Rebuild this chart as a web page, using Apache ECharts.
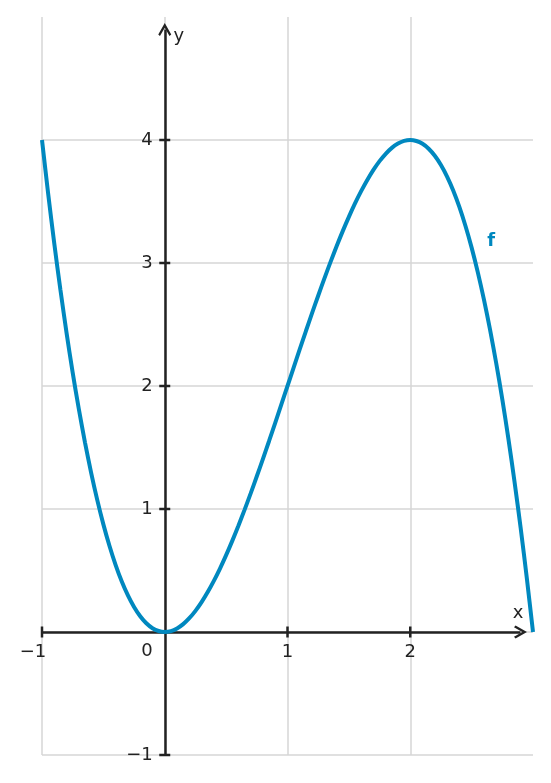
<!DOCTYPE html>
<html>
<head>
<meta charset="utf-8">
<script src="https://cdn.jsdelivr.net/npm/echarts@6/dist/echarts.min.js"></script>
<style>html,body{margin:0;padding:0;background:#fff;}#c{width:551px;height:783px;}</style>
</head>
<body>
<div id="c"></div>
<script>
// Curve samples
const xs = [-1.00,-0.95,-0.90,-0.85,-0.80,-0.75,-0.70,-0.65,-0.60,-0.55,-0.50,-0.45,-0.40,-0.35,-0.30,-0.25,-0.20,-0.15,-0.10,-0.05,
  0.00,0.05,0.10,0.15,0.20,0.25,0.30,0.35,0.40,0.45,0.50,0.55,0.60,0.65,0.70,0.75,0.80,0.85,0.90,0.95,
  1.00,1.05,1.10,1.15,1.20,1.25,1.30,1.35,1.40,1.45,1.50,1.55,1.60,1.65,1.70,1.75,1.80,1.85,1.90,1.95,
  2.00,2.05,2.10,2.15,2.20,2.25,2.30,2.35,2.40,2.45,2.50,2.55,2.60,2.65,2.70,2.75,2.80,2.85,2.90,2.95,3.00];
const ys = [4.000,3.565,3.159,2.782,2.432,2.109,1.813,1.542,1.296,1.074,0.875,0.699,0.544,0.410,0.297,0.203,0.128,0.071,0.031,0.008,
  0.000,0.007,0.029,0.064,0.112,0.172,0.243,0.325,0.416,0.516,0.625,0.741,0.864,0.993,1.127,1.266,1.408,1.553,1.701,1.850,
  2.000,2.150,2.299,2.447,2.592,2.734,2.873,3.007,3.136,3.259,3.375,3.484,3.584,3.675,3.757,3.828,3.888,3.936,3.971,3.993,
  4.000,3.992,3.969,3.929,3.872,3.797,3.703,3.590,3.456,3.301,3.125,2.926,2.704,2.458,2.187,1.891,1.568,1.218,0.841,0.435,0.000];
const xTicks = [-1, 1, 2];
const yTicks = [-1, 1, 2, 3, 4];
const xGrid = [-1, 0, 1, 2];
const yGrid = [-1, 0, 1, 2, 3, 4];
const xRange = [-1, 3];
const yRange = [-1, 5];
const xAxisEnd = 2.898;
const yAxisEnd = 4.898;
const seriesName = 'f';
const labelPoint = [2.66, 3.18];

const FONT = 'DejaVu Sans';
const INK = '#222222';
const BLUE = '#0088bf';
const GRID = '#d6d6d6';
const fmt = v => String(v).replace('-', '\u2212');

const chevron = 'path://M6,0 L12,10.2 L10.4,11.6 L6,4.2 L1.6,11.6 L0,10.2 Z';

const gridLines = [];
yGrid.forEach(y => gridLines.push([{coord: [xRange[0], y]}, {coord: [xRange[1], y]}]));
xGrid.forEach(x => gridLines.push([{coord: [x, yRange[0]]}, {coord: [x, yRange[1]]}]));

const txt = {fontFamily: FONT, fontSize: 18, color: INK, opacity: 1};

function tickRenderer(vertical) {
  return function (params, api) {
    const p = api.coord([api.value(0), api.value(1)]);
    const h = 5.5;
    const shape = vertical
      ? {x1: p[0], y1: p[1] - h, x2: p[0], y2: p[1] + h}
      : {x1: p[0] - h, y1: p[1], x2: p[0] + h, y2: p[1]};
    return {type: 'line', shape: shape, style: {stroke: INK, lineWidth: 2.5}};
  };
}

const chart = echarts.init(document.getElementById('c'), null, {renderer: 'canvas'});
chart.setOption({
  animation: false,
  backgroundColor: '#ffffff',
  grid: {left: 42, right: 18, top: 17, bottom: 28, containLabel: false},
  xAxis: {type: 'value', min: xRange[0], max: xRange[1], interval: 1,
    axisLine: {show: false}, axisTick: {show: false}, axisLabel: {show: false}, splitLine: {show: false}},
  yAxis: {type: 'value', min: yRange[0], max: yRange[1], interval: 1,
    axisLine: {show: false}, axisTick: {show: false}, axisLabel: {show: false}, splitLine: {show: false}},
  series: [
    { // grid lines
      type: 'line', data: [], silent: true, z: 1,
      markLine: {z: 1, silent: true, symbol: ['none', 'none'], label: {show: false},
        lineStyle: {color: GRID, width: 1.5, type: 'solid'}, emphasis: {disabled: true},
        data: gridLines}
    },
    { // axes with arrows
      type: 'line', data: [], silent: true, z: 3,
      markLine: {z: 3, silent: true, symbol: ['none', chevron], symbolSize: [13, 13], label: {show: false},
        lineStyle: {color: INK, width: 2.5, type: 'solid', opacity: 1}, itemStyle: {color: INK},
        emphasis: {disabled: true},
        data: [
          [{coord: [xRange[0], 0]}, {coord: [xAxisEnd, 0]}],
          [{coord: [0, yRange[0]]}, {coord: [0, yAxisEnd]}]
        ]}
    },
    { // x tick marks
      type: 'custom', silent: true, z: 4, renderItem: tickRenderer(true),
      data: xTicks.map(v => [v, 0])
    },
    { // y tick marks
      type: 'custom', silent: true, z: 4, renderItem: tickRenderer(false),
      data: yTicks.map(v => [0, v])
    },
    { // x tick labels
      type: 'scatter', silent: true, z: 5, symbolSize: 0, itemStyle: {opacity: 1},
      data: xTicks.map(v => ({value: [v, 0], label: {offset: [v < 0 ? -9 : 0, 0]}})),
      label: Object.assign({show: true, position: 'bottom', distance: 11,
        formatter: p => fmt(p.value[0])}, txt),
      emphasis: {disabled: true}
    },
    { // y tick labels
      type: 'scatter', silent: true, z: 5, symbolSize: 0, itemStyle: {opacity: 1},
      data: yTicks.map(v => [0, v]),
      label: Object.assign({show: true, position: 'left', distance: 12,
        formatter: p => fmt(p.value[1])}, txt),
      emphasis: {disabled: true}
    },
    { // origin label and axis names
      type: 'scatter', silent: true, z: 5, symbolSize: 0,
      itemStyle: {opacity: 1},
      data: [
        {value: [0, 0], label: {formatter: '0', position: 'left', distance: 12, offset: [0, 19]}},
        {value: [xAxisEnd, 0], label: {formatter: 'x', position: 'inside', offset: [-2.5, -19]}},
        {value: [0, yAxisEnd], label: {formatter: 'y', position: 'inside', offset: [14, 6.5]}}
      ],
      label: Object.assign({show: true}, txt),
      emphasis: {disabled: true}
    },
    {
      name: seriesName, type: 'line', z: 6, smooth: 0.3, showSymbol: false, symbol: 'none',
      lineStyle: {color: BLUE, width: 4}, itemStyle: {color: BLUE},
      data: xs.map((x, i) => [x, ys[i]]), clip: false
    },
    {
      type: 'scatter', silent: true, z: 7, symbolSize: 0, itemStyle: {opacity: 1},
      data: [labelPoint],
      label: {show: true, position: 'inside', formatter: seriesName, fontFamily: FONT,
        fontSize: 18, fontWeight: 'bold', color: BLUE, opacity: 1},
      emphasis: {disabled: true}
    }
  ]
});
</script>
</body>
</html>
